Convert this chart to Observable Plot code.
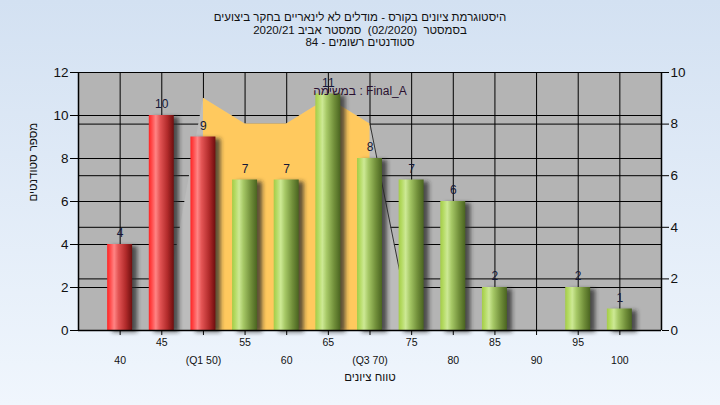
<!DOCTYPE html>
<html>
<head>
<meta charset="utf-8">
<script src="https://cdn.jsdelivr.net/npm/d3@7"></script>
<script src="https://cdn.jsdelivr.net/npm/@observablehq/plot@0.6"></script>
<style>
  html, body { margin: 0; padding: 0; }
  body { width: 720px; height: 405px; overflow: hidden; }
  #wrap { position: relative; width: 720px; height: 405px;
          background: linear-gradient(#d3e1f2, #f0f6fd); font-family: "Liberation Sans", Arial, sans-serif; }
  #title { position: absolute; left: 0; top: 11px; width: 720px; text-align: center;
           direction: rtl; font-size: 11.5px; line-height: 12.7px; color: #111; }
  #chart { position: absolute; left: 0; top: 0; }
</style>
</head>
<body>
<div id="wrap">
  <div id="chart"></div>
  <div id="title">
    <div>היסטוגרמת ציונים בקורס - מודלים לא לינאריים בחקר ביצועים</div>
    <div>בסמסטר&nbsp; (02/2020)&nbsp; סמסטר אביב 2020/21</div>
    <div>סטודנטים רשומים - 84</div>
  </div>
</div>
<script>
// ---- data ----
const grades = [40, 45, 50, 55, 60, 65, 70, 75, 80, 85, 90, 95, 100];
const counts = [4, 10, 9, 7, 7, 11, 8, 7, 6, 2, 0, 2, 1];
const tickLabels = ["40", "45", "(Q1 50)", "55", "60", "65", "(Q3 70)", "75", "80", "85", "90", "95", "100"];
const redGrades = [40, 45, 50];
const curveGrades = [45, 50, 55, 60, 65, 70, 75];   // right-axis series
const curveValues = [0, 9, 8, 8, 9, 8, 0];
const iqrGrades = [50, 55, 60, 65, 70];
const iqrValues = [9, 8, 8, 9, 8];
const leftTicks = [0, 2, 4, 6, 8, 10, 12];
const rightTicks = [0, 2, 4, 6, 8, 10];
const seriesLabel = "במשימה : Final_A";
const xTitle = "טווח ציונים";
const yTitle = "מספר סטודנטים";

// ---- derived ----
const leftMax = 12, rightMax = 10, k = leftMax / rightMax;
const bars = grades.map((g, i) => ({g, c: counts[i], red: redGrades.includes(g)}));
const curve = curveGrades.map((g, i) => ({g, v: curveValues[i] * k}));
const iqr = iqrGrades.map((g, i) => ({g, v: iqrValues[i] * k}));
const labelOf = new Map(grades.map((g, i) => [g, tickLabels[i]]));
const oddGrades = grades.filter((g, i) => i % 2 === 1);
const evenGrades = grades.filter((g, i) => i % 2 === 0);
const halfW = 1.5;

const chart = Plot.plot({
  width: 720,
  height: 405,
  marginLeft: 78,
  marginRight: 59,
  marginTop: 72,
  marginBottom: 75,
  style: "background: transparent; overflow: visible; font-family: 'Liberation Sans', Arial, sans-serif;",
  x: {type: "linear", domain: [35, 105], axis: null, label: null},
  y: {domain: [0, leftMax], axis: null, label: null},
  marks: [
    Plot.frame({fill: "#b4b4b4", stroke: null}),
    Plot.gridY(leftTicks, {stroke: "#000", strokeOpacity: 1, strokeWidth: 1}),
    Plot.ruleY(rightTicks.map(t => t * k), {stroke: "#000", strokeWidth: 1}),
    Plot.ruleX(grades, {stroke: "#000", strokeWidth: 1}),
    Plot.areaY(curve, {x: "g", y: "v", fill: "#bcbcbc"}),
    Plot.areaY(iqr, {x: "g", y: "v", fill: "#ffc95e"}),
    Plot.line(curve.slice(-2), {x: "g", y: "v", stroke: "#333", strokeWidth: 1}),
    // shadows
    Plot.rectY(bars.filter(d => d.c > 0), {x1: d => d.g - halfW, x2: d => d.g + halfW, y: "c",
      dx: 5, dy: 2, fill: "#2a2a2a", fillOpacity: 0.75, className: "shadow"}),
    // cylinders
    Plot.rectY(bars.filter(d => d.c > 0), {x1: d => d.g - halfW, x2: d => d.g + halfW, y: "c",
      fill: d => d.red ? "url(#gRed)" : "url(#gGreen)"}),
    Plot.ruleY([0], {stroke: "#000", strokeWidth: 1.5}),
    Plot.ruleX([35], {stroke: "#000", strokeWidth: 1.5}),
    Plot.ruleX([105], {stroke: "#000", strokeWidth: 1.5}),
    Plot.text(bars.filter(d => d.c > 0), {x: "g", y: "c", text: d => String(d.c), dy: -11,
      fontSize: 12, fill: "#141838"}),
    Plot.text([seriesLabel], {frameAnchor: "top", dx: -10, dy: 14, fontSize: 12, fill: "#2a1030"}),
    // left axis
    Plot.axisY(leftTicks, {anchor: "left", tickSize: 8, tickPadding: 2, fontSize: 13.5, label: null,
      stroke: "#000", fill: "#111", tickFormat: d => String(d)}),
    // right axis (mapped)
    Plot.axisY(rightTicks.map(t => t * k), {anchor: "right", tickSize: 7, tickPadding: 2, fontSize: 13.5, label: null,
      stroke: "#000", fill: "#111", tickFormat: d => String(Math.round(d / k))}),
    // x axis, staggered
    Plot.axisX(oddGrades, {anchor: "bottom", tickSize: 5, tickPadding: 3, fontSize: 10.5, label: null,
      stroke: "#000", fill: "#111", tickFormat: d => labelOf.get(d)}),
    Plot.axisX(evenGrades, {anchor: "bottom", tickSize: 5, tickPadding: 21, fontSize: 10.5, label: null,
      stroke: "#000", fill: "#111", tickFormat: d => labelOf.get(d)}),
    Plot.text([xTitle], {frameAnchor: "bottom", dy: 50, fontSize: 11.5, fill: "#111"}),
    Plot.text([yTitle], {frameAnchor: "left", dx: -45, rotate: -90, fontSize: 11.5, fill: "#111"})
  ]
});

// gradients and blur filter
const svg = d3.select(chart);
const defs = svg.insert("defs", ":first-child");
function grad(id, stops) {
  const g = defs.append("linearGradient").attr("id", id).attr("x1", "0").attr("x2", "1").attr("y1", "0").attr("y2", "0");
  stops.forEach(([o, c]) => g.append("stop").attr("offset", o).attr("stop-color", c));
}
grad("gRed", [["0", "#ff2424"], ["0.12", "#ff4a4a"], ["0.28", "#ff8484"], ["0.45", "#e35454"], ["0.75", "#b02a2a"], ["1", "#6e0e0e"]]);
grad("gGreen", [["0", "#a4cc48"], ["0.12", "#b4da62"], ["0.28", "#cde995"], ["0.45", "#a6c866"], ["0.75", "#718f3a"], ["1", "#4a6420"]]);
const f = defs.append("filter").attr("id", "blur").attr("x", "-50%").attr("y", "-10%").attr("width", "200%").attr("height", "130%");
f.append("feGaussianBlur").attr("stdDeviation", 2.2);
svg.selectAll("g.shadow, .shadow").attr("filter", "url(#blur)");

document.getElementById("chart").appendChild(chart);
</script>
</body>
</html>
